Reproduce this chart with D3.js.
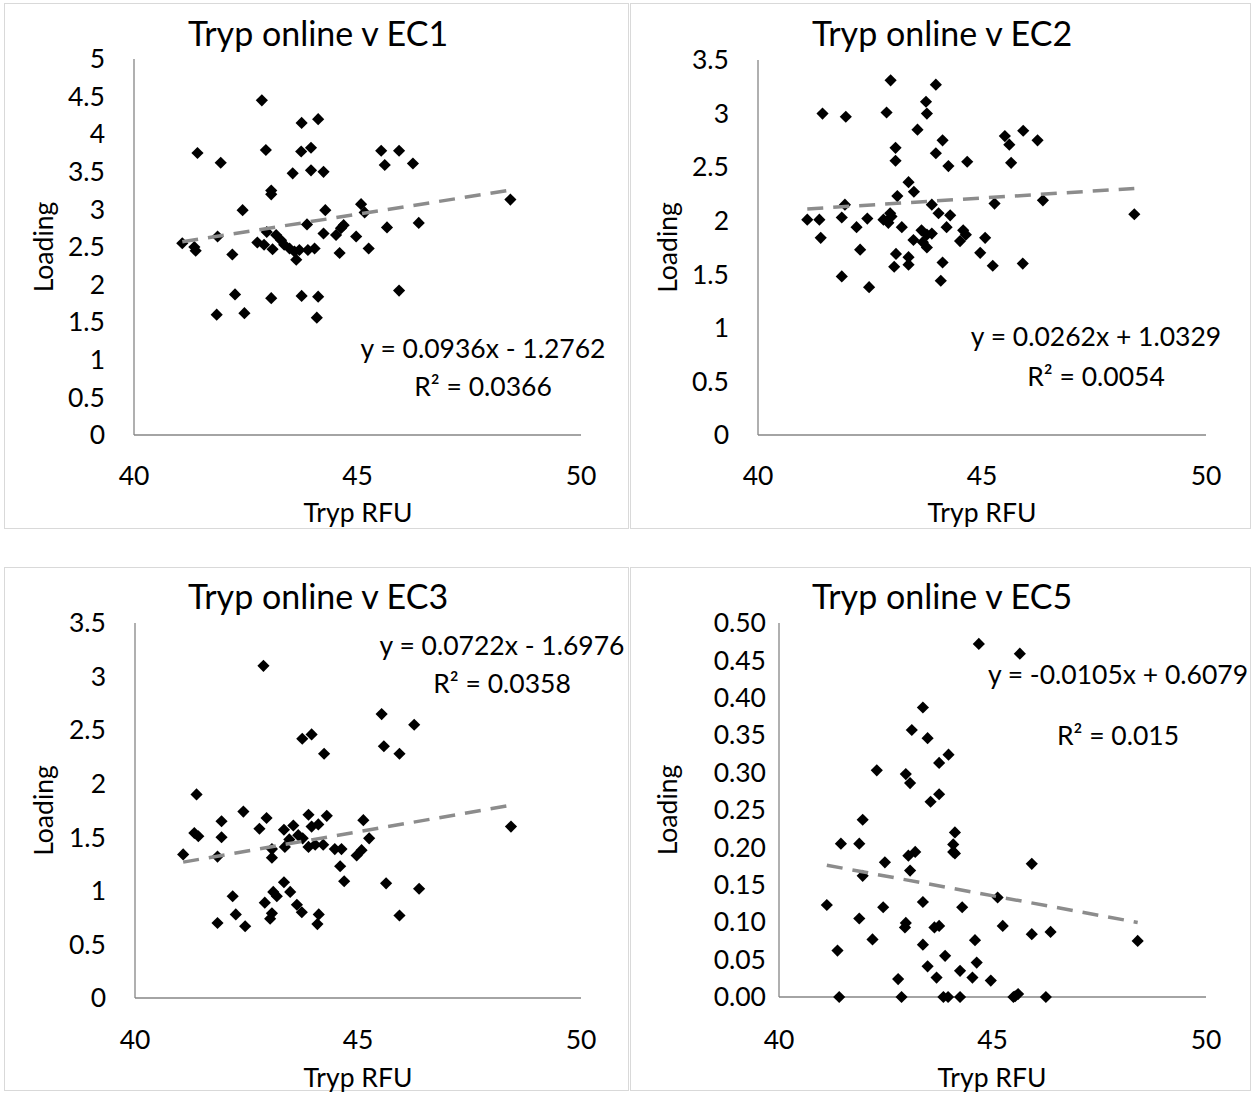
<!DOCTYPE html>
<html><head><meta charset="utf-8">
<script src="https://cdnjs.cloudflare.com/ajax/libs/d3/7.8.5/d3.min.js"></script>
<style>
html,body{margin:0;padding:0;background:#fff;}
svg{display:block;font-family:Lato,"Open Sans",sans-serif;}
</style></head>
<body>
<svg id="chart" width="1252" height="1093"></svg>
<script>
// ---- data ----
const titles = ["Tryp online v EC1","Tryp online v EC2","Tryp online v EC3","Tryp online v EC5"];
const xTicks = [40,45,50];
const yTicksEC1 = [0,0.5,1,1.5,2,2.5,3,3.5,4,4.5,5];
const yTicksEC2 = [0,0.5,1,1.5,2,2.5,3,3.5];
const yTicksEC3 = [0,0.5,1,1.5,2,2.5,3,3.5];
const yTicksEC5 = [0,0.05,0.10,0.15,0.20,0.25,0.30,0.35,0.40,0.45,0.50];
const slopes = [0.0936,0.0262,0.0722,-0.0105];
const intercepts = [-1.2762,1.0329,-1.6976,0.6079];
const eqLabels = ["y = 0.0936x - 1.2762","y = 0.0262x + 1.0329","y = 0.0722x - 1.6976","y = -0.0105x + 0.6079"];
const r2Labels = ["R² = 0.0366","R² = 0.0054","R² = 0.0358","R² = 0.015"];

const ec1X = [42.86,43.75,44.12,41.42,42.95,43.74,43.96,41.94,43.55,43.96,44.24,43.07,43.07,42.43,44.28,45.08,45.16,43.87,44.52,44.63,44.69,42.97,41.87,41.08,41.35,41.38,42.20,44.24,44.97,45.25,44.60,42.76,42.91,43.10,43.18,43.29,43.36,43.48,43.59,43.70,43.89,44.04,43.63,42.26,43.07,43.75,44.12,41.85,42.47,44.09,45.53,45.93,45.61,46.24,48.42,45.66,46.37,45.93];
const ec1Y = [4.45,4.15,4.20,3.75,3.79,3.77,3.82,3.62,3.48,3.52,3.50,3.25,3.20,2.99,2.99,3.07,2.96,2.80,2.66,2.75,2.79,2.70,2.64,2.55,2.50,2.45,2.40,2.68,2.64,2.48,2.42,2.56,2.53,2.47,2.66,2.59,2.53,2.48,2.44,2.46,2.46,2.48,2.33,1.87,1.82,1.85,1.84,1.60,1.62,1.56,3.78,3.78,3.59,3.61,3.13,2.76,2.82,1.92];

const ec2X = [42.96,43.97,41.44,41.96,42.87,43.75,43.77,43.56,43.07,43.07,44.12,43.97,44.25,44.67,45.51,45.61,45.65,45.92,46.24,46.36,48.40,45.91,43.36,43.48,43.11,41.94,43.88,44.03,44.29,44.21,41.10,41.37,41.40,41.87,42.20,42.44,42.95,42.80,42.91,42.98,43.21,43.65,43.77,43.88,43.47,43.68,43.77,44.58,44.64,44.51,45.07,42.28,43.08,43.36,43.04,43.36,44.12,44.96,41.87,42.48,44.08,45.24,45.28];
const ec2Y = [3.31,3.27,3.00,2.97,3.01,3.11,3.00,2.85,2.68,2.56,2.75,2.63,2.51,2.55,2.79,2.71,2.54,2.84,2.75,2.19,2.06,1.60,2.36,2.27,2.23,2.15,2.15,2.07,2.05,1.94,2.01,2.01,1.84,2.03,1.94,2.02,2.07,2.01,1.98,2.04,1.94,1.91,1.87,1.88,1.82,1.80,1.75,1.91,1.87,1.81,1.84,1.73,1.69,1.66,1.57,1.59,1.61,1.70,1.48,1.38,1.44,1.58,2.16];

const ec3X = [42.88,45.53,45.58,43.75,43.96,44.24,41.38,41.33,41.42,41.94,41.94,42.43,42.79,42.95,41.08,41.85,43.07,43.07,43.34,43.55,43.46,43.66,43.76,43.89,43.96,44.11,44.30,43.89,44.04,44.22,44.48,44.63,44.60,44.69,44.97,45.08,45.12,45.25,45.63,42.19,41.85,42.26,42.47,42.91,43.07,43.03,43.10,43.18,43.34,43.48,43.63,43.74,44.12,44.09,46.26,45.93,48.43,46.37,45.93,43.36];
const ec3Y = [3.10,2.65,2.35,2.42,2.46,2.28,1.90,1.54,1.51,1.65,1.50,1.74,1.58,1.68,1.34,1.32,1.39,1.31,1.57,1.61,1.48,1.52,1.49,1.71,1.60,1.62,1.70,1.41,1.43,1.43,1.39,1.39,1.23,1.09,1.33,1.38,1.66,1.49,1.07,0.95,0.70,0.78,0.67,0.89,0.79,0.74,0.99,0.95,1.08,0.99,0.87,0.80,0.78,0.69,2.55,2.28,1.60,1.02,0.77,1.41];

const ec5X = [44.68,43.37,43.11,43.48,43.97,43.75,42.29,42.97,43.07,43.75,43.55,41.96,41.45,41.88,44.12,44.08,44.08,44.12,42.48,43.03,43.19,43.07,41.96,45.12,41.12,42.44,43.37,44.29,41.88,42.97,42.95,43.64,43.75,45.24,42.19,43.37,44.59,41.37,43.89,43.48,44.63,44.24,43.69,44.53,44.96,42.79,41.41,42.87,43.85,43.96,44.24,45.49,45.64,45.92,45.92,46.36,48.40,45.53,45.60,46.25];
const ec5Y = [0.472,0.387,0.357,0.346,0.324,0.313,0.303,0.298,0.286,0.271,0.261,0.237,0.205,0.205,0.220,0.204,0.194,0.192,0.180,0.189,0.194,0.169,0.162,0.133,0.123,0.120,0.127,0.120,0.105,0.099,0.093,0.093,0.095,0.095,0.077,0.070,0.076,0.062,0.055,0.041,0.046,0.035,0.026,0.026,0.022,0.024,0,0,0,0,0,0,0.459,0.178,0.084,0.087,0.075,0.001,0.004,0];

// ---- layout ----
const FS = 26.5;   // small text
const TFS = 34;    // title
const panels = [
  {box:[4.5,3.5,624,525], plot:{l:134,r:581,t:59,b:435}, xs:ec1X, ys:ec1Y, yTicks:yTicksEC1, yFmt:d3.format(""), yLabX:105, yTitleX:44,
   title:[318,46], eq:[483,358], r2:[483,396], xTitle:[358,522], xLabY:485},
  {box:[630.5,3.5,620,525], plot:{l:758,r:1206,t:60,b:435}, xs:ec2X, ys:ec2Y, yTicks:yTicksEC2, yFmt:d3.format(""), yLabX:729, yTitleX:668,
   title:[942,46], eq:[1096,346], r2:[1096,386], xTitle:[982,522], xLabY:485},
  {box:[4.5,567.5,624,523], plot:{l:135,r:581,t:623,b:998}, xs:ec3X, ys:ec3Y, yTicks:yTicksEC3, yFmt:d3.format(""), yLabX:106, yTitleX:44,
   title:[318,609], eq:[502,655], r2:[502,693], xTitle:[358,1087], xLabY:1049},
  {box:[630.5,567.5,620,523], plot:{l:779,r:1206,t:623,b:997}, xs:ec5X, ys:ec5Y, yTicks:yTicksEC5, yFmt:d3.format(".2f"), yLabX:766, yTitleX:668,
   title:[942,609], eq:[1118,684], r2:[1118,745], xTitle:[992,1087], xLabY:1049}
];

const svg = d3.select("#chart");
const diamond = d3.symbol().type(d3.symbolSquare).size(74);

panels.forEach((p,i)=>{
  const g = svg.append("g");
  g.append("rect").attr("x",p.box[0]).attr("y",p.box[1]).attr("width",p.box[2]).attr("height",p.box[3])
    .attr("fill","#fff").attr("stroke","#d9d9d9").attr("stroke-width",1);

  const yMax = p.yTicks[p.yTicks.length-1];
  const x = d3.scaleLinear().domain([40,50]).range([p.plot.l,p.plot.r]);
  const y = d3.scaleLinear().domain([0,yMax]).range([p.plot.b,p.plot.t]);

  // axes lines
  g.append("line").attr("x1",p.plot.l).attr("x2",p.plot.l).attr("y1",p.plot.t).attr("y2",p.plot.b)
    .attr("stroke","#868686").attr("stroke-width",1.3);
  g.append("line").attr("x1",p.plot.l).attr("x2",p.plot.r).attr("y1",p.plot.b).attr("y2",p.plot.b)
    .attr("stroke","#868686").attr("stroke-width",1.3);

  // y tick labels
  g.selectAll(".yt").data(p.yTicks).join("text")
    .attr("x",p.yLabX).attr("y",d=>y(d)).attr("dy","0.35em")
    .attr("text-anchor","end").attr("font-size",FS).attr("fill","#000")
    .text(p.yFmt);
  // x tick labels
  g.selectAll(".xt").data(xTicks).join("text")
    .attr("x",d=>x(d)).attr("y",p.xLabY)
    .attr("text-anchor","middle").attr("font-size",FS).attr("fill","#000")
    .text(d=>d);

  // titles
  g.append("text").attr("x",p.title[0]).attr("y",p.title[1]).attr("text-anchor","middle")
    .attr("font-size",TFS).text(titles[i]);
  g.append("text").attr("x",p.xTitle[0]).attr("y",p.xTitle[1]).attr("text-anchor","middle")
    .attr("font-size",FS).text("Tryp RFU");
  const yMid = (p.plot.t+p.plot.b)/2;
  g.append("text").attr("transform",`translate(${p.yTitleX},${yMid}) rotate(-90)`)
    .attr("text-anchor","middle").attr("dy","0.35em").attr("font-size",FS).text("Loading");

  // points
  const pts = p.xs.map((v,k)=>[v,p.ys[k]]);
  g.selectAll(".pt").data(pts).join("path")
    .attr("d",diamond)
    .attr("transform",d=>`translate(${x(d[0])},${y(d[1])}) rotate(45)`)
    .attr("fill","#000");

  // trendline
  const x0 = d3.min(p.xs), x1 = d3.max(p.xs);
  const f = v=>slopes[i]*v+intercepts[i];
  g.append("line").attr("x1",x(x0)).attr("y1",y(f(x0))).attr("x2",x(x1)).attr("y2",y(f(x1)))
    .attr("stroke","#8c8c8c").attr("stroke-width",3.5).attr("stroke-dasharray","16,10");

  // equation
  g.append("text").attr("x",p.eq[0]).attr("y",p.eq[1]).attr("text-anchor","middle").attr("font-size",FS).text(eqLabels[i]);
  g.append("text").attr("x",p.r2[0]).attr("y",p.r2[1]).attr("text-anchor","middle").attr("font-size",FS).text(r2Labels[i]);
});
</script>
</body></html>
